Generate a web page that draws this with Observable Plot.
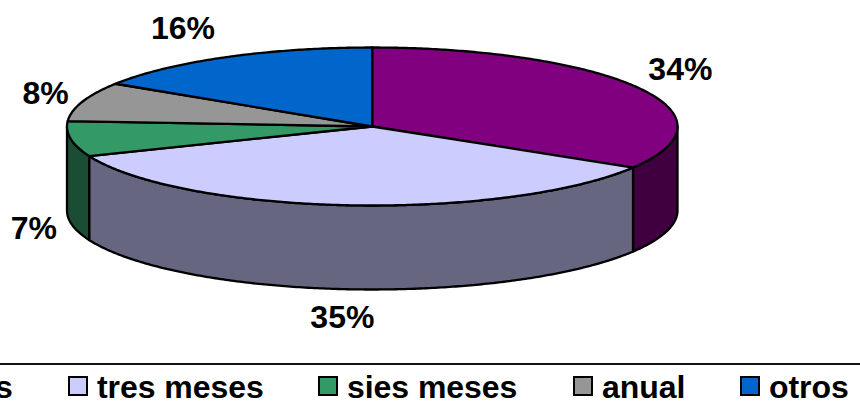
<!DOCTYPE html>
<html><head><meta charset="utf-8">
<script src="https://cdn.jsdelivr.net/npm/d3@7"></script>
<script src="https://cdn.jsdelivr.net/npm/@observablehq/plot@0.6"></script>
<style>
html,body{margin:0;padding:0;background:#fff;overflow:hidden}
#stage{position:relative;width:860px;height:404px;overflow:hidden;font-family:"Liberation Sans",Arial,sans-serif}
#stage svg{display:block;position:absolute;left:0;top:0}
#legend{position:absolute;left:0;top:363px;width:860px;height:41px;border-top:2.4px solid #111;box-sizing:border-box;overflow:hidden}
.item{position:absolute;top:0;white-space:nowrap}
.sw{position:absolute;top:11px;left:0;width:20px;height:20px;box-sizing:border-box;border:2.4px solid #000}
.tx{position:absolute;left:29px;top:7px;font-weight:bold;font-size:32px;line-height:30px;color:#000;letter-spacing:-0.05px}
</style></head><body><div id="stage"></div>
<script>
const categories = ["un mes", "tres meses", "sies meses", "anual", "otros"];
const percents = [33.7, 35.2, 7.2, 8.0, 15.9];
const topColors = ["#800080", "#CCCCFF", "#339966", "#969696", "#0066CC"];
const sideColors = ["#400040", "#666680", "#1A4D33", "#4B4B4B", "#003366"];

// layout, kept apart from the data
const labelDx = [42, -5, -37, -37, -43];
const labelDy = [-18, 113, 90, -8, -28];
const legendLeft = [-128, 68, 318, 573, 740];
const depth = 84 / 79;

const total = d3.sum(percents);
const starts = d3.cumsum([0, ...percents]).map(v => v / total * 2 * Math.PI);
const px = t => Math.sin(t), py = t => Math.cos(t);
const arc = (a, b) => {
  const n = Math.max(2, Math.ceil((b - a) / 0.01));
  return d3.range(n + 1).map(i => a + (b - a) * i / n);
};

const marks = [];
// side walls: only the part of each slice that faces the viewer
percents.forEach((_, i) => {
  const a = Math.max(starts[i], Math.PI / 2), b = Math.min(starts[i + 1], 3 * Math.PI / 2);
  if (b <= a) return;
  const ts = arc(a, b);
  const pts = [
    ...ts.map(t => ({x: px(t), y: py(t)})),
    ...ts.slice().reverse().map(t => ({x: px(t), y: py(t) - depth}))
  ];
  pts.push(pts[0]);
  marks.push(Plot.line(pts, {x: "x", y: "y", fill: sideColors[i], stroke: "#000", strokeWidth: 2.3}));
});
// top faces
percents.forEach((_, i) => {
  const pts = [{x: 0, y: 0}, ...arc(starts[i], starts[i + 1]).map(t => ({x: px(t), y: py(t)})), {x: 0, y: 0}];
  marks.push(Plot.line(pts, {x: "x", y: "y", fill: topColors[i], stroke: "#000", strokeWidth: 2.3}));
});
// percentage labels
percents.forEach((v, i) => {
  const m = (starts[i] + starts[i + 1]) / 2;
  marks.push(Plot.text([v], {
    x: () => px(m), y: () => py(m), text: d => d3.format(".0f")(d) + "%",
    dx: labelDx[i], dy: labelDy[i],
    fontSize: 32, fontWeight: "bold", fontFamily: "Liberation Sans", fill: "#000", textAnchor: "middle"
  }));
});

const svg = Plot.plot({
  width: 860, height: 363, margin: 0,
  style: {background: "transparent", overflow: "visible"},
  x: {domain: [-1, 1], range: [66.5, 677], axis: null},
  y: {domain: [-1, 1], range: [205, 47], axis: null},
  marks
});
const stage = document.getElementById("stage");
stage.appendChild(svg);
const legend = document.createElement("div");
legend.id = "legend";
categories.forEach((c, i) => {
  const it = document.createElement("div");
  it.className = "item";
  it.style.left = legendLeft[i] + "px";
  const sw = document.createElement("div");
  sw.className = "sw"; sw.style.background = topColors[i];
  const tx = document.createElement("div");
  tx.className = "tx"; tx.textContent = c;
  it.append(sw, tx);
  legend.appendChild(it);
});
stage.appendChild(legend);
</script></body></html>
